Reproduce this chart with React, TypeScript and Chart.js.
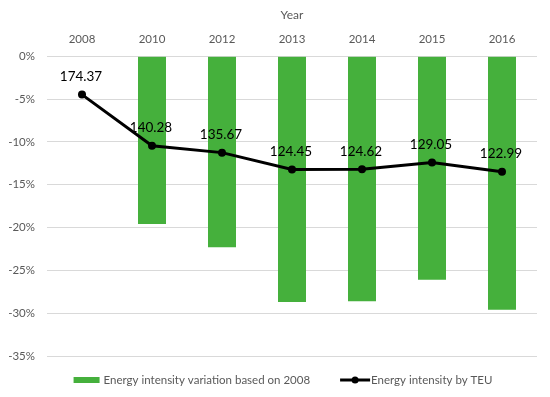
import React, { useEffect, useRef } from "react";
import { Chart, registerables } from "chart.js";

Chart.register(...registerables);

const years = ["2008", "2010", "2012", "2013", "2014", "2015", "2016"];
const variationPct = [0, -19.6, -22.3, -28.7, -28.6, -26.1, -29.6];
const intensityByTEU = [174.37, 140.28, 135.67, 124.45, 124.62, 129.05, 122.99];
const yMin = -35;
const yMax = 0;
const yStep = 5;
const barLabel = "Energy intensity variation based on 2008";
const lineLabel = "Energy intensity by TEU";

const GREEN = "#45B03C";
const GRAY = "#595959";
const FONT = "Lato, 'Open Sans', sans-serif";

const labelPlugin = {
  id: "pointLabels",
  afterDatasetsDraw(chart: any) {
    const meta = chart.getDatasetMeta(1);
    const ctx = chart.ctx;
    ctx.save();
    ctx.font = `13.5px ${FONT}`;
    ctx.fillStyle = "#000";
    ctx.textAlign = "center";
    ctx.textBaseline = "middle";
    meta.data.forEach((pt: any, i: number) => {
      ctx.fillText(intensityByTEU[i].toFixed(2), pt.x - 1, pt.y - 18);
    });
    ctx.restore();
  },
};

const legendPlugin = {
  id: "customLegend",
  afterDraw(chart: any) {
    const ctx = chart.ctx;
    ctx.save();
    ctx.font = `11.5px ${FONT}`;
    ctx.textBaseline = "middle";
    ctx.textAlign = "left";
    const w1 = ctx.measureText(barLabel).width;
    const w2 = ctx.measureText(lineLabel).width;
    const total = 26 + 4 + w1 + 30 + 30 + 1 + w2;
    let x = (chart.width - total) / 2 + 8;
    const y = chart.height - 9;
    ctx.fillStyle = GREEN;
    ctx.fillRect(x, y - 3, 26, 6);
    x += 30;
    ctx.fillStyle = GRAY;
    ctx.fillText(barLabel, x, y);
    x += w1 + 30;
    ctx.strokeStyle = "#000";
    ctx.lineWidth = 3;
    ctx.beginPath();
    ctx.moveTo(x, y);
    ctx.lineTo(x + 30, y);
    ctx.stroke();
    ctx.fillStyle = "#000";
    ctx.beginPath();
    ctx.arc(x + 15, y, 3.5, 0, Math.PI * 2);
    ctx.fill();
    x += 31;
    ctx.fillStyle = GRAY;
    ctx.fillText(lineLabel, x, y);
    ctx.restore();
  },
};

export default function App() {
  const ref = useRef<HTMLCanvasElement>(null);
  useEffect(() => {
    if (!ref.current) return;
    const chart = new Chart(ref.current, {
      type: "bar",
      data: {
        labels: years,
        datasets: [
          {
            type: "bar",
            label: barLabel,
            data: variationPct,
            backgroundColor: GREEN,
            borderWidth: 0,
            barPercentage: 0.8,
            categoryPercentage: 0.5,
            yAxisID: "y",
            order: 2,
          },
          {
            type: "line",
            label: lineLabel,
            data: intensityByTEU,
            borderColor: "#000",
            backgroundColor: "#000",
            borderWidth: 3,
            pointRadius: 4,
            pointBackgroundColor: "#000",
            pointBorderWidth: 0,
            yAxisID: "y1",
            order: 1,
          } as any,
        ],
      },
      options: {
        animation: false,
        responsive: true,
        maintainAspectRatio: false,
        layout: { autoPadding: false, padding: { top: 0, left: 0, right: 5, bottom: 33 } },
        plugins: {
          legend: { display: false },
          tooltip: { enabled: false },
        },
        scales: {
          x: {
            position: "top",
            grid: { display: false, drawTicks: false },
            border: { display: false },
            ticks: { color: GRAY, font: { family: FONT, size: 11.5 }, padding: 10 },
            title: {
              display: true,
              text: "Year",
              color: GRAY,
              font: { family: FONT, size: 12 },
              padding: { top: 0, bottom: 0 },
            },
          },
          y: {
            min: yMin,
            max: yMax,
            afterFit: (axis: any) => {
              axis.width = 39;
            },
            grid: { color: "#D9D9D9", lineWidth: 1, drawTicks: false },
            border: { display: false },
            ticks: {
              stepSize: yStep,
              color: GRAY,
              font: { family: FONT, size: 11.5 },
              padding: 12,
              callback: (v: any) => `${v}%`,
            },
          },
          y1: {
            display: false,
            min: 0,
            max: 200,
          },
        },
      },
      plugins: [labelPlugin, legendPlugin],
    });
    return () => chart.destroy();
  }, []);
  return (
    <div style={{ width: 534, height: 381, position: "relative" }}>
      <canvas ref={ref} />
    </div>
  );
}
